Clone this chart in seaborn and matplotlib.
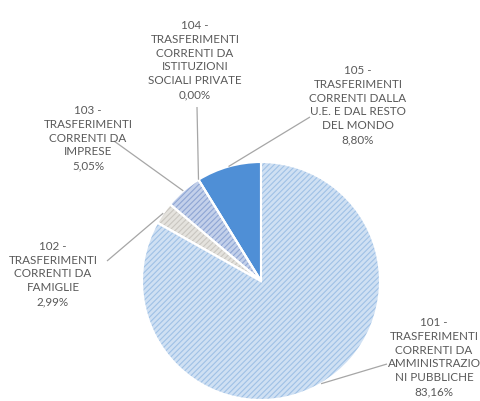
import numpy as np
import matplotlib
matplotlib.use("Agg")
import matplotlib.pyplot as plt
import seaborn as sns

codes = ["101", "102", "103", "104", "105"]
name_lines = [
    ["TRASFERIMENTI", "CORRENTI DA", "AMMINISTRAZIO", "NI PUBBLICHE"],
    ["TRASFERIMENTI", "CORRENTI DA", "FAMIGLIE"],
    ["TRASFERIMENTI", "CORRENTI DA", "IMPRESE"],
    ["TRASFERIMENTI", "CORRENTI DA", "ISTITUZIONI", "SOCIALI PRIVATE"],
    ["TRASFERIMENTI", "CORRENTI DALLA", "U.E. E DAL RESTO", "DEL MONDO"],
]
values = [83.16, 2.99, 5.05, 0.00, 8.80]

face_colors = ["#cfe0f3", "#e4e2dd", "#c3d0ea", "#c3d0ea", "#4f8fd6"]
hatch_colors = ["#9fc1e6", "#c9c6c0", "#8ea5d4", "#8ea5d4", "#4f8fd6"]
hatches = ["//////", "//////", "//////", "", ""]

sns.set_theme(style="white")
plt.rcParams["font.family"] = ["Lato", "DejaVu Sans"]
plt.rcParams["hatch.linewidth"] = 0.8

W, H = 481, 402
fig = plt.figure(figsize=(W / 100, H / 100), dpi=100)
cx, cy, R = 261, 282, 119
ax = fig.add_axes([(cx - R) / W, (H - cy - R) / H, 2 * R / W, 2 * R / H])

wedges, _ = ax.pie(values, startangle=90, counterclock=False, radius=1.0,
                   colors=face_colors, wedgeprops=dict(linewidth=0))
for w, hc, h in zip(wedges, hatch_colors, hatches):
    w.set_edgecolor(hc)
    w.set_hatch(h)
    w.set_linewidth(0)
wedges2, _ = ax.pie(values, startangle=90, counterclock=False, radius=1.0,
                    colors=["none"] * len(values),
                    wedgeprops=dict(linewidth=1.5, edgecolor="white", fill=False))
ax.set_xlim(-1, 1)
ax.set_ylim(-1, 1)
ax.set_aspect("equal")
ax.axis("off")

def px(x, y):
    return ((x - cx) / R, (cy - y) / R)

label_pos = [px(434, 357), px(53, 274), px(88, 138), px(195, 60), px(358, 105)]
line_start = [px(387, 365), px(107, 262), px(114, 142), px(197, 108), px(310, 118)]

txt_color = "#595959"
for i, w in enumerate(wedges):
    pct = f"{values[i]:.2f}".replace(".", ",") + "%"
    text = "\n".join([codes[i] + " -"] + name_lines[i] + [pct])
    ax.text(*label_pos[i], text, ha="center", va="center", fontsize=8.4,
            color=txt_color, linespacing=1.32, clip_on=False)
    ang = np.deg2rad((w.theta1 + w.theta2) / 2)
    ex, ey = np.cos(ang) * 1.0, np.sin(ang) * 1.0
    sx, sy = line_start[i]
    ax.plot([sx, ex], [sy, ey], color="#a6a6a6", lw=0.9, clip_on=False,
            solid_capstyle="butt")

fig.savefig("out.png", dpi=100, facecolor="white")
